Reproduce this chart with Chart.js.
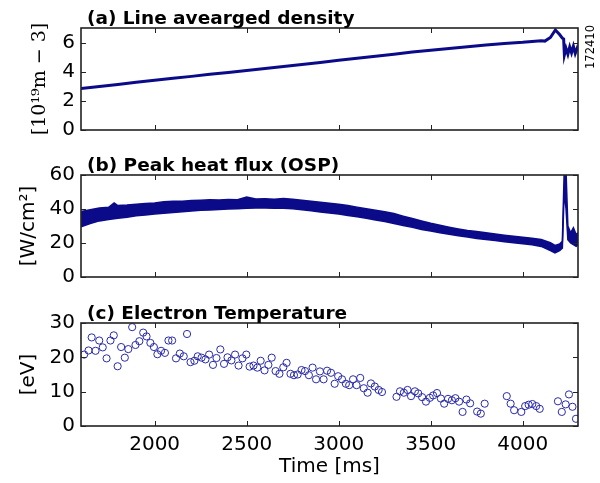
<!DOCTYPE html>
<html>
<head>
<meta charset="utf-8">
<script src="https://cdn.jsdelivr.net/npm/chart.js@4.4.1/dist/chart.umd.min.js"></script>
<style>
  html, body { margin: 0; padding: 0; background: #fff; }
  #wrap { position: relative; width: 600px; height: 483px; overflow: hidden; }
  canvas { position: absolute; left: 0; }
</style>
</head>
<body>
<div id="wrap">
  <canvas id="ca" width="600" height="150" style="top:0px"></canvas>
  <canvas id="cb" width="600" height="145" style="top:150px"></canvas>
  <canvas id="cc" width="600" height="188" style="top:295px"></canvas>
</div>
<script>
// ---------------- DATA ----------------
const xTicks = [2000, 2500, 3000, 3500, 4000];
const densityTicks = [0, 2, 4, 6];
const fluxTicks = [0, 20, 40, 60];
const tempTicks = [0, 10, 20, 30];

const densityTime = [1600,1700,1800,1900,2000,2100,2200,2300,2400,2500,2600,2700,2800,2900,3000,3100,3200,3300,3400,3500,3600,3700,3800,3900,4000,4050,4100,4120,4150,4177,4200,4215,4222,4226,4235,4245,4255,4265,4275,4285,4295,4300];
const densityValue = [2.85,2.98,3.12,3.28,3.42,3.55,3.68,3.82,3.95,4.08,4.22,4.36,4.50,4.64,4.78,4.92,5.06,5.20,5.35,5.48,5.60,5.72,5.83,5.93,6.02,6.08,6.12,6.10,6.35,6.86,6.55,6.30,6.25,5.15,5.60,5.20,5.70,5.30,5.75,5.25,5.60,5.40];

const fluxTime = [1600,1650,1700,1750,1780,1800,1850,1900,1950,2000,2050,2100,2150,2200,2250,2300,2350,2400,2450,2500,2550,2600,2650,2700,2750,2800,2850,2900,2950,3000,3050,3100,3150,3200,3250,3300,3350,3400,3450,3500,3550,3600,3650,3700,3750,3800,3850,3900,3950,4000,4050,4100,4150,4175,4200,4215,4225,4235,4245,4260,4275,4290,4300];
const fluxUpper = [38.5,39.5,40.6,41.0,43.5,42.0,42.3,42.8,43.2,43.6,44.3,44.5,44.6,45.0,45.2,45.4,45.3,45.6,45.5,47.0,45.9,46.0,45.8,46.2,45.7,45.2,44.6,44.0,43.4,42.8,42.0,41.1,40.2,39.3,38.4,37.3,35.8,34.4,33.0,31.6,30.4,29.3,28.3,27.4,26.7,26.0,25.3,24.6,24.0,23.4,22.8,22.0,20.2,18.6,19.4,21.0,62.0,62.0,30.0,26.0,29.0,25.0,26.0];
const fluxLower = [29.5,31.5,33.0,33.8,34.2,34.5,35.2,36.0,36.5,37.0,37.5,38.0,38.4,38.8,39.2,39.4,39.7,40.0,40.2,40.5,40.6,40.6,40.5,40.4,40.1,39.6,39.0,38.3,37.6,37.0,36.2,35.4,34.5,33.5,32.6,31.5,30.3,29.2,28.0,27.0,26.0,25.1,24.3,23.5,22.7,22.0,21.4,20.8,20.2,19.6,19.0,18.0,15.5,14.2,15.5,17.0,50.0,40.0,22.0,20.0,19.0,18.0,19.0];

const tempTime = [1617,1641,1658,1679,1699,1718,1739,1760,1778,1799,1818,1838,1857,1878,1896,1917,1938,1956,1977,1996,2015,2035,2056,2075,2095,2116,2137,2158,2176,2195,2216,2234,2255,2276,2296,2317,2336,2357,2377,2396,2417,2437,2456,2477,2498,2516,2537,2558,2576,2597,2618,2636,2657,2678,2699,2717,2738,2757,2777,2798,2817,2838,2858,2877,2898,2918,2937,2958,2978,2997,3018,3039,3057,3078,3097,3117,3136,3157,3175,3196,3217,3235,3314,3333,3354,3374,3393,3414,3432,3453,3474,3495,3513,3534,3555,3573,3594,3615,3634,3654,3673,3694,3714,3752,3772,3793,3913,3934,3953,3992,4013,4032,4052,4073,4092,4191,4212,4233,4251,4270,4289];
const tempValue = [20.8,22.0,25.8,21.9,24.9,22.9,19.7,24.9,26.4,17.4,23.0,19.9,22.4,28.8,23.6,24.7,27.2,26.1,24.2,23.0,20.9,21.9,21.3,24.9,24.9,19.7,21.1,20.3,26.8,18.6,19.0,20.3,19.9,19.4,20.8,17.8,19.8,22.3,18.1,20.0,19.1,20.8,17.6,19.7,20.8,17.3,17.6,17.0,19.0,16.2,17.8,19.9,16.0,15.2,17.1,18.4,15.2,14.8,15.0,16.3,16.0,14.8,17.0,13.6,15.9,13.6,16.1,15.5,12.3,14.5,13.6,12.3,11.9,13.6,11.9,14.0,11.0,9.7,12.4,11.5,10.5,9.9,8.5,10.1,9.7,10.5,8.7,10.1,9.5,8.4,7.1,8.2,8.9,9.6,8.0,6.5,7.9,7.5,8.1,7.1,4.1,7.7,6.6,4.2,3.6,6.5,8.7,6.5,4.6,4.1,5.8,6.2,6.4,5.8,5.0,7.2,4.1,6.3,9.2,5.6,2.1];

// ---------------- STYLE ----------------
const X_MIN = 1600, X_MAX = 4300;
const LINE_COLOR = '#0b0b8a';
const DOT_COLOR = '#2a2aaa';
const FONT = '"DejaVu Sans", sans-serif';

const framePlugin = {
  id: 'frame',
  afterDraw(chart, args, opts) {
    const {ctx, chartArea: a, scales} = chart;
    const xs = scales.x, ys = scales.y;
    ctx.save();
    ctx.strokeStyle = '#222';
    ctx.lineWidth = 1;
    const L = 5;
    ctx.beginPath();
    xs.ticks.forEach(t => {
      const px = Math.round(xs.getPixelForValue(t.value)) + 0.5;
      ctx.moveTo(px, a.bottom); ctx.lineTo(px, a.bottom - L);
      ctx.moveTo(px, a.top); ctx.lineTo(px, a.top + L);
    });
    ys.ticks.forEach(t => {
      const py = Math.round(ys.getPixelForValue(t.value)) + 0.5;
      ctx.moveTo(a.left, py); ctx.lineTo(a.left + L, py);
      ctx.moveTo(a.right, py); ctx.lineTo(a.right - L, py);
    });
    ctx.stroke();
    ctx.lineWidth = 1.6;
    ctx.strokeRect(a.left, a.top, a.right - a.left, a.bottom - a.top);
    ctx.fillStyle = '#000';
    ctx.font = 'bold 18.5px ' + FONT;
    ctx.textBaseline = 'alphabetic';
    ctx.textAlign = 'left';
    ctx.fillText(opts.text, a.left + 6, a.top - 4);
    if (opts.side) {
      ctx.translate(a.right + 13, a.top + 19);
      ctx.rotate(-Math.PI / 2);
      ctx.font = '11.5px ' + FONT;
      ctx.textAlign = 'center';
      ctx.textBaseline = 'middle';
      ctx.fillText(opts.side, 0, 0);
    }
    ctx.restore();
  }
};

function xScale(showLabels, h) {
  return {
    type: 'linear', min: X_MIN, max: X_MAX,
    afterBuildTicks: s => { s.ticks = xTicks.map(v => ({value: v})); },
    afterFit: s => { s.height = h; },
    grid: {display: false, drawTicks: false},
    border: {display: false},
    ticks: {display: showLabels, color: '#000', font: {family: FONT, size: 20}, padding: 7, maxRotation: 0, callback: v => String(v)},
    title: {display: showLabels, text: 'Time [ms]', color: '#000', font: {family: FONT, size: 20}, padding: {top: 0, bottom: 4}}
  };
}
function yScale(max, ticks, title, titleFont, titlePad) {
  return {
    type: 'linear', min: 0, max: max,
    afterBuildTicks: s => { s.ticks = ticks.map(v => ({value: v})); },
    afterFit: s => { s.width = 81; },
    grid: {display: false, drawTicks: false},
    border: {display: false},
    ticks: {color: '#000', font: {family: FONT, size: 20}, padding: 6, callback: v => String(v)},
    title: {display: true, text: title, color: '#000', font: titleFont, padding: {top: titlePad, bottom: 0}}
  };
}
const common = {
  responsive: false, animation: false, devicePixelRatio: 1,
  plugins: {legend: {display: false}, tooltip: {enabled: false}}
};

// (a) density
new Chart(document.getElementById('ca'), {
  type: 'line',
  data: {datasets: [{
    data: densityTime.map((t, i) => ({x: t, y: densityValue[i]})),
    borderColor: LINE_COLOR, borderWidth: 3, pointRadius: 0, tension: 0, fill: false
  }]},
  options: Object.assign({}, common, {
    layout: {padding: {left: 0, right: 22, top: 28, bottom: 0}},
    scales: {x: xScale(false, 20), y: yScale(7, densityTicks, '[10\u00B9\u2079m \u2212 3]', {family: '"DejaVu Serif", serif', size: 19}, 29)},
    plugins: Object.assign({}, common.plugins, {frame: {text: '(a) Line avearged density', side: '172410'}})
  }),
  plugins: [framePlugin]
});

// (b) heat flux
new Chart(document.getElementById('cb'), {
  type: 'line',
  data: {datasets: [
    {data: fluxTime.map((t, i) => ({x: t, y: fluxLower[i]})), borderColor: LINE_COLOR, backgroundColor: LINE_COLOR, borderWidth: 1.5, pointRadius: 0, tension: 0, fill: false},
    {data: fluxTime.map((t, i) => ({x: t, y: fluxUpper[i]})), borderColor: LINE_COLOR, backgroundColor: LINE_COLOR, borderWidth: 1.5, pointRadius: 0, tension: 0, fill: '-1'}
  ]},
  options: Object.assign({}, common, {
    layout: {padding: {left: 0, right: 22, top: 25, bottom: 0}},
    scales: {x: xScale(false, 17), y: yScale(60, fluxTicks, '[W/cm\u00B2]', {family: FONT, size: 20}, 17)},
    plugins: Object.assign({}, common.plugins, {frame: {text: '(b) Peak heat flux (OSP)'}})
  }),
  plugins: [framePlugin]
});

// (c) electron temperature
new Chart(document.getElementById('cc'), {
  type: 'scatter',
  data: {datasets: [{
    data: tempTime.map((t, i) => ({x: t, y: tempValue[i]})),
    borderColor: DOT_COLOR, backgroundColor: 'rgba(0,0,0,0)', borderWidth: 1, pointRadius: 3.6, clip: 0
  }]},
  options: Object.assign({}, common, {
    layout: {padding: {left: 0, right: 22, top: 28, bottom: 0}},
    scales: {x: xScale(true, 57), y: yScale(30, tempTicks, '[eV]', {family: FONT, size: 20}, 17)},
    plugins: Object.assign({}, common.plugins, {frame: {text: '(c) Electron Temperature'}})
  }),
  plugins: [framePlugin]
});
</script>
</body>
</html>
